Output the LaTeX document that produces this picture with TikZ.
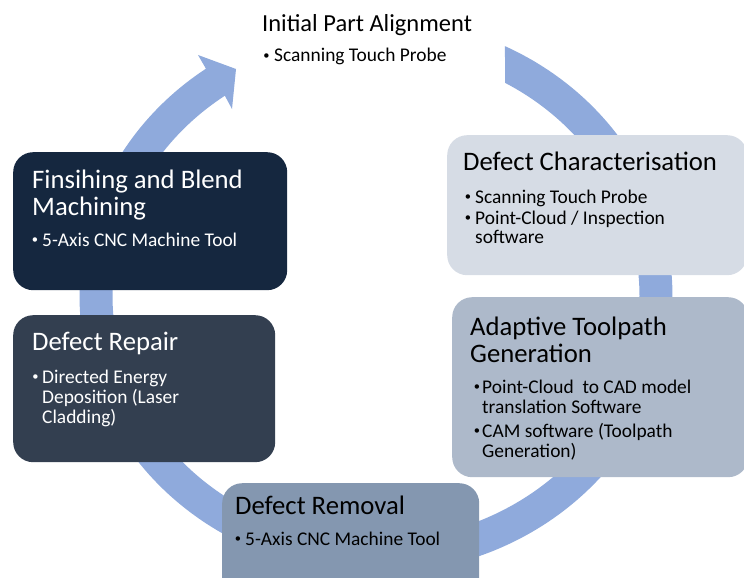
\documentclass[tikz,border=0pt]{standalone}
\usepackage{fontspec}
\setmainfont{Carlito}
\definecolor{bandblue}{HTML}{8FAADC}
\definecolor{navy}{HTML}{15273F}
\definecolor{slate}{HTML}{333F50}
\definecolor{palegray}{HTML}{D6DCE5}
\definecolor{midgray}{HTML}{ADB9CA}
\definecolor{bluegray}{HTML}{8497B0}
\newcommand\bdot{\raisebox{2.2pt}{\fontsize{12.5}{12.5}\selectfont •}}
\tikzset{
  box/.style={anchor=north west, inner sep=0pt, rounded corners=20pt, draw=none},
  ttl/.style={anchor=base west, inner sep=0pt, font=\fontsize{26.7}{27}\selectfont},
  toptitle/.style={anchor=base west, inner sep=0pt, font=\fontsize{24.5}{25}\selectfont},
  itm/.style={anchor=base west, inner sep=0pt, font=\fontsize{19.4}{20}\selectfont},
  bul/.style={anchor=base, inner sep=0pt},
}
\begin{document}
\begin{tikzpicture}[x=1pt,y=-1pt]
\useasboundingbox (0,0) rectangle (744,578);
\clip (0,0) rectangle (744,578);
% circular arrow band
\fill[bandblue]
  plot[domain=64.21:-235, samples=240] ({376+296.5*cos(\x)},{296-277.5*sin(\x)})
  -- (198,55) -- (236,69) -- (232,109)
  -- plot[domain=-235:60.69, samples=240] ({376+263.5*cos(\x)},{296-244.5*sin(\x)})
  -- cycle;
% boxes
\node[box, fill=navy, minimum width=274pt, minimum height=138pt] (fin) at (13,152) {};
\node[box, fill=slate, minimum width=262pt, minimum height=147pt] (rep) at (13,315) {};
\node[box, fill=palegray, minimum width=300pt, minimum height=140pt] (chr) at (447,135) {};
\node[box, fill=midgray, minimum width=296pt, minimum height=180pt] (ada) at (452,297) {};
\node[box, fill=bluegray, minimum width=257pt, minimum height=120pt] (rem) at (222,483) {};
% top text
\node[toptitle] (t0) at (262,32) {Initial Part Alignment};
\node[bul] (t0b) at (266.5,62) {\bdot};
\node[itm] (t0i) at (274,62) {Scanning Touch Probe};
% finishing
\node[ttl, text=white] (f1) at (32,188) {Finsihing and Blend};
\node[ttl, text=white] (f2) at (32,215) {Machining};
\node[bul, text=white] (fb) at (35,246) {\bdot};
\node[itm, text=white] (fi) at (42,246) {5-Axis CNC Machine Tool};
% characterisation
\node[ttl] (c1) at (463,170) {Defect Characterisation};
\node[bul] (cb1) at (468,203) {\bdot};
\node[itm] (ci1) at (475,203) {Scanning Touch Probe};
\node[bul] (cb2) at (468,224) {\bdot};
\node[itm] (ci2) at (475,224) {Point-Cloud / Inspection};
\node[itm] (ci3) at (475,243) {software};
% repair
\node[ttl, text=white] (r1) at (32,350) {Defect Repair};
\node[bul, text=white] (rb) at (35.5,383) {\bdot};
\node[itm, text=white] (ri1) at (42,383) {Directed Energy};
\node[itm, text=white] (ri2) at (42,403) {Deposition (Laser};
\node[itm, text=white] (ri3) at (42,423) {Cladding)};
% adaptive
\node[ttl] (a1) at (470,335) {Adaptive Toolpath};
\node[ttl] (a2) at (470,362) {Generation};
\node[bul] (ab1) at (477,393) {\bdot};
\node[itm] (ai1) at (482,393) {Point-Cloud\ \ to CAD model};
\node[itm] (ai2) at (482,413) {translation Software};
\node[bul] (ab2) at (477,437) {\bdot};
\node[itm] (ai3) at (482,437) {CAM software (Toolpath};
\node[itm] (ai4) at (482,457) {Generation)};
% removal
\node[ttl] (m1) at (235,514) {Defect Removal};
\node[bul] (mb) at (238,545) {\bdot};
\node[itm] (mi) at (245,545) {5-Axis CNC Machine Tool};
\end{tikzpicture}
\end{document}
